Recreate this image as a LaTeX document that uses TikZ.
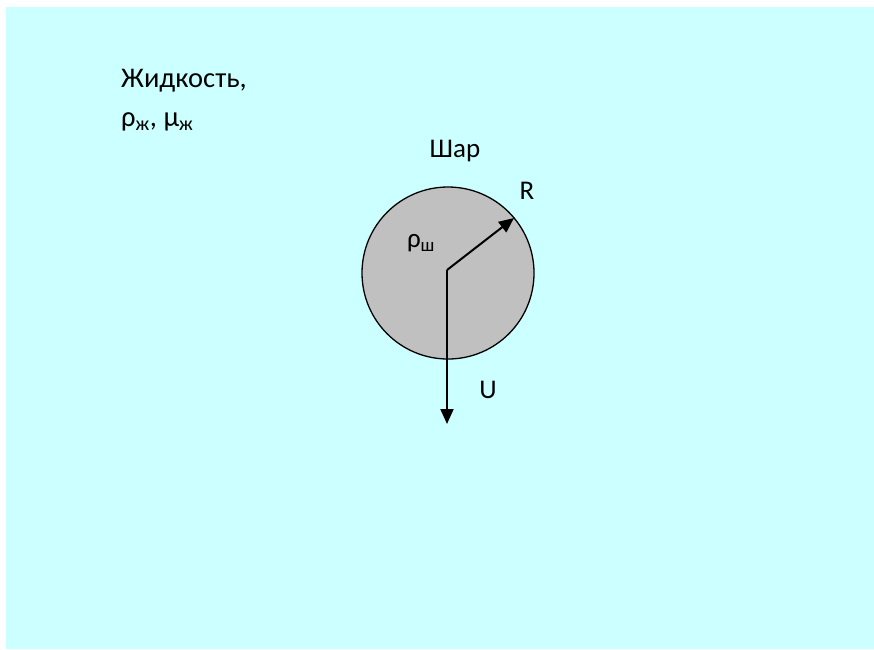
\documentclass[tikz,border=0pt]{standalone}
\usepackage{fontspec}
\setmainfont{Carlito}
\usetikzlibrary{arrows.meta}
\definecolor{bgcyan}{HTML}{CCFFFF}
\definecolor{ballgray}{HTML}{C0C0C0}
\begin{document}
\begin{tikzpicture}[x=1pt,y=-1pt,
  lbl/.style={inner sep=0pt,font=\fontsize{27}{32}\selectfont},
  biglbl/.style={inner sep=0pt,anchor=base west,font=\fontsize{28.5}{34}\selectfont},
  vec/.style={line width=2pt,-{Triangle[length=15pt,width=13pt]}}]
\useasboundingbox (0,0) rectangle (874,649);
\fill[bgcyan] (6,7) rectangle (874,649);
\node[circle,draw=black,line width=1.3pt,fill=ballgray,minimum size=172pt,inner sep=0pt] (ball) at (448,273) {};
\coordinate (c) at (447,270);
\coordinate (rtip) at (514,218);
\coordinate (utip) at (447,424);
\draw[vec] (c) -- (rtip);
\draw[vec] (c) -- (utip);
\node[biglbl] (liq) at (121,87) {Жидкость,};
\node[biglbl] (props) at (121,126.5) {ρ\textsubscript{ж}, μ\textsubscript{ж}};
\node[lbl] (shar) at (455,151) {Шар};
\node[lbl] (R) at (527,191) {R};
\node[lbl] (rho) at (421,243) {ρ\textsubscript{ш}};
\node[lbl] (U) at (488,390) {U};
\end{tikzpicture}
\end{document}
